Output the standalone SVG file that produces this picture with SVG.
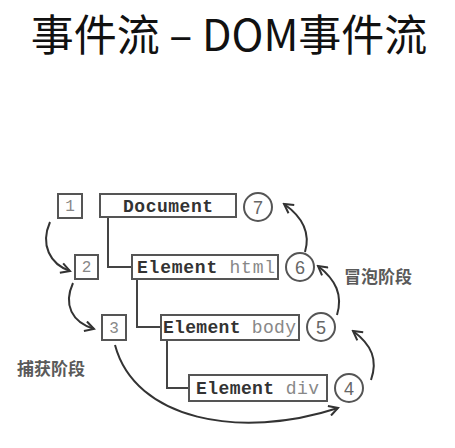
<svg xmlns="http://www.w3.org/2000/svg" width="455" height="448" viewBox="0 0 455 448">
<style>
.box{fill:#fff;stroke:#555;stroke-width:2}
.tree{fill:none;stroke:#444;stroke-width:2}
.arc{fill:none;stroke:#333;stroke-width:2;marker-end:url(#ah)}
.circ{fill:#fff;stroke:#555;stroke-width:2}
.mono{font-family:"Liberation Mono","DejaVu Sans Mono",monospace;font-size:18px}
.b{font-weight:bold;fill:#333}
.l{fill:#888}
.sq{font-family:"Liberation Mono",monospace;font-size:16px;fill:#888;text-anchor:middle}
.cn{font-family:"Liberation Sans",sans-serif;font-size:18px;fill:#666;text-anchor:middle}
.lab{font-family:"Noto Sans CJK SC",sans-serif;font-size:17px;font-weight:bold;fill:#5a5a5a}
</style>
<defs>
<marker id="ah" viewBox="0 0 12 12" refX="10" refY="6" markerWidth="12" markerHeight="12" markerUnits="userSpaceOnUse" orient="auto">
<path d="M1,1 L10,6 L1,11" fill="none" stroke="#333" stroke-width="2"/>
</marker>
</defs>
<text x="229" y="51" font-family="Noto Sans CJK SC, sans-serif" font-size="43" text-anchor="middle" fill="#111">事件流 – DOM事件流</text>

<g id="connectors">
<path class="tree" d="M108,217 V267 H132"/>
<path class="tree" d="M137,279 V327 H161"/>
<path class="tree" d="M167,340 V388 H189"/>
<path class="arc" d="M50,222 C40,245 50,264 70,271"/>
<path class="arc" d="M73,283 C63,305 72,322 94,329"/>
<path class="arc" d="M115,345 C135,420 240,440 338,408"/>
<path class="arc" d="M371,380 C378,360 372,345 353,331"/>
<path class="arc" d="M337,315 C343,295 336,280 318,266"/>
<path class="arc" d="M305,252 C310,235 304,218 284,204"/>
</g>

<g id="n1"><rect class="box" x="58" y="194" width="24" height="24"/><text class="sq" x="70" y="211">1</text></g>
<g id="n2"><rect class="box" x="75" y="255" width="23" height="24"/><text class="sq" x="86.5" y="272">2</text></g>
<g id="n3"><rect class="box" x="102" y="315" width="24" height="25"/><text class="sq" x="114" y="333">3</text></g>

<g id="document"><rect class="box" x="100" y="194" width="136" height="23"/><text class="mono b" x="123" y="212" textLength="90">Document</text></g>
<g id="html"><rect class="box" x="132" y="255" width="146" height="24"/><text class="mono" x="137" y="273" textLength="138"><tspan class="b">Element</tspan> <tspan class="l">html</tspan></text></g>
<g id="body"><rect class="box" x="161" y="315" width="138" height="25"/><text class="mono" x="163" y="333" textLength="133"><tspan class="b">Element</tspan> <tspan class="l">body</tspan></text></g>
<g id="div"><rect class="box" x="189" y="375" width="138" height="26"/><text class="mono" x="196" y="394" textLength="123"><tspan class="b">Element</tspan> <tspan class="l">div</tspan></text></g>

<g id="c7"><circle class="circ" cx="258" cy="207" r="14"/><text class="cn" x="258" y="213.5">7</text></g>
<g id="c6"><circle class="circ" cx="300" cy="267" r="14"/><text class="cn" x="300" y="273.5">6</text></g>
<g id="c5"><circle class="circ" cx="321" cy="327" r="14"/><text class="cn" x="321" y="333.5">5</text></g>
<g id="c4"><circle class="circ" cx="349" cy="388" r="14"/><text class="cn" x="349" y="394.5">4</text></g>

<g id="bubble"><text class="lab" x="344" y="283">冒泡阶段</text></g>
<g id="capture"><text class="lab" x="17" y="375">捕获阶段</text></g>
</svg>
